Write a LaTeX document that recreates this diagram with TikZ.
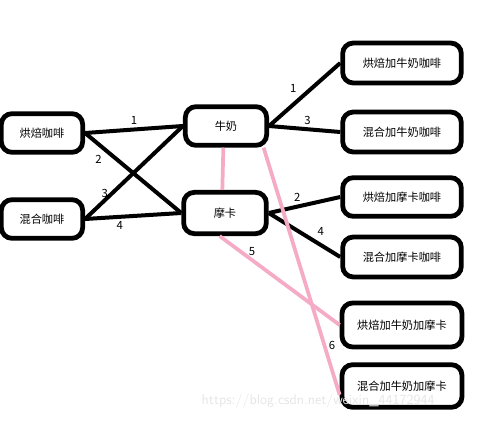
\documentclass[tikz,border=0pt]{standalone}
\usepackage{fontspec}
\usepackage{tikz}
\newfontfamily\cjk{Noto Sans CJK SC}
\definecolor{linkpink}{RGB}{245,170,198}

\tikzset{
  coffee/.style={draw, line width=3.6pt, rounded corners=8pt, font=\cjk\fontsize{8.4}{9}\selectfont, inner sep=0pt, minimum height=29pt},
  link/.style={line width=3pt, black},
  mix/.style={line width=2.8pt, linkpink},
  num/.style={font=\cjk\fontsize{8.5}{9}\selectfont, text=black, inner sep=2pt}
}

\begin{document}
\begin{tikzpicture}[x=0.75pt,y=0.75pt,yscale=-1,xscale=1]
        \useasboundingbox (0,0) rectangle (480,422);

        % Text Node
        \node [coffee, minimum width=61pt] (hb) at (42,133) {烘焙咖啡};
        % Text Node
        \node [coffee, minimum width=61pt] (hh) at (42,219) {混合咖啡};
        % Text Node
        \node [coffee, minimum width=61pt] (nn) at (226,126) {牛奶};
        % Text Node
        \node [coffee, minimum width=62pt, minimum height=31pt] (mk) at (225,213) {摩卡};
        % Text Node
        \node [coffee, minimum width=89pt, minimum height=30pt] (r1) at (402,63) {烘焙加牛奶咖啡};
        % Text Node
        \node [coffee, minimum width=89pt, minimum height=30pt] (r2) at (402,132) {混合加牛奶咖啡};
        % Text Node
        \node [coffee, minimum width=89pt, minimum height=29pt] (r3) at (402,197) {烘焙加摩卡咖啡};
        % Text Node
        \node [coffee, minimum width=89pt, minimum height=30pt] (r4) at (402,257) {混合加摩卡咖啡};
        % Text Node
        \node [coffee, minimum width=90pt, minimum height=33pt] (r5) at (402,325) {烘焙加牛奶加摩卡};
        % Text Node
        \node [coffee, minimum width=90pt, minimum height=32pt] (r6) at (402,386) {混合加牛奶加摩卡};

        %Straight Lines
        \draw [link] (hb.east) -- (nn.west) node [num, midway, above] {1};
        \draw [link] (hb.east) -- (mk.west) node [num, pos=0.22, below left] {2};
        \draw [link] (hh.east) -- (nn.west) node [num, pos=0.28, left] {3};
        \draw [link] (hh.east) -- (mk.west) node [num, pos=0.36, below] {4};
        %Straight Lines
        \draw [link] (nn.east) -- (r1.west) node [num, pos=0.45, above left] {1};
        \draw [link] (nn.east) -- (r2.west) node [num, pos=0.54, above] {3};
        \draw [link] (mk.east) -- (r3.west) node [num, pos=0.4, above] {2};
        \draw [link] (mk.east) -- (r4.west) node [num, pos=0.62, above right] {4};

        %Pink Lines
        \draw [mix] ([xshift=-2]nn.south) -- ([xshift=-2]mk.north);
        \draw [mix] ([xshift=-4]mk.south) -- (r5.west) node [num, pos=0.27, above] {5};
        \draw [mix] (nn.-30) -- (r6.188) node [num, pos=0.8, right] {6};

        % Text Node
        \node [font=\fontsize{10.5}{11}\sffamily, text=black!10, anchor=west] (mark) at (197,401) {https://blog.csdn.net/weixin\_44172944};

\end{tikzpicture}
\end{document}
